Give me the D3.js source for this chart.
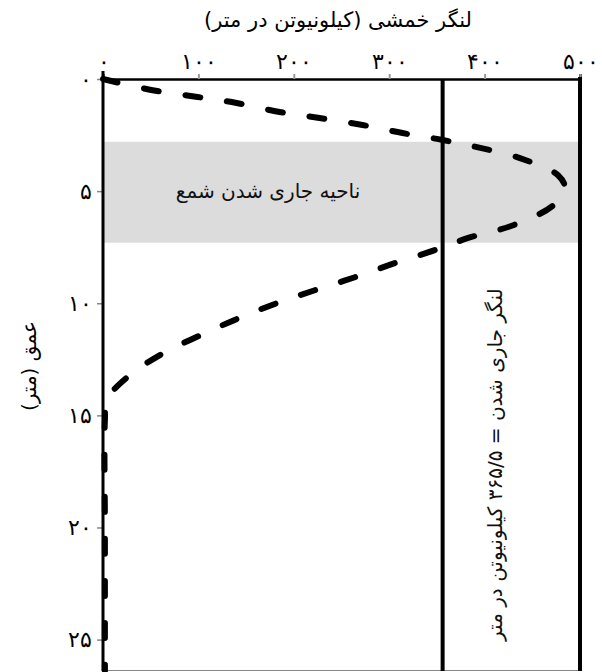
<!DOCTYPE html>
<html><head><meta charset="utf-8">
<script src="https://cdn.jsdelivr.net/npm/d3@7"></script>
<style>
html,body{margin:0;padding:0;background:#fff;}
svg{display:block;font-family:"DejaVu Sans",sans-serif;}
</style></head>
<body>
<svg id="c" width="602" height="672"></svg>
<script>
// Data
const xTicks = [0, 100, 200, 300, 400, 500];
const xTickLabels = ["۰", "۱۰۰", "۲۰۰", "۳۰۰", "۴۰۰", "۵۰۰"];
const yTicks = [0, 5, 10, 15, 20, 25];
const yTickLabels = ["۰", "۵", "۱۰", "۱۵", "۲۰", "۲۵"];
const depth  = [0, 0.5, 0.8, 1.07, 1.47, 1.74, 2.05, 2.41, 2.72, 3.04, 3.53, 4.29, 4.85, 5.63, 6.52, 7.1, 7.63, 8.21, 8.84, 9.42, 10.0, 10.67, 11.43, 12.23, 13.21, 14.3, 15.2, 20, 25, 26.4];
const moment = [0, 52, 99, 140, 185, 227, 272, 314, 356, 392, 437, 477, 484, 472, 430, 382, 348, 306, 264, 222, 182, 142, 102, 63, 28, 4, 2, 2, 2, 2];
const yieldLine = 356;      // position of the yield-moment line as drawn
const plotMax = 500;
const bandDepth = [2.8, 7.3];
const xTitle = "لنگر خمشی (کیلونیوتن در متر)";
const yTitle = "عمق (متر)";
const bandLabel = "ناحیه جاری شدن شمع";
const yieldLabel = "لنگر جاری شدن = ۳۶۵/۵ کیلونیوتن در متر";

const svg = d3.select("#c");
const x = d3.scaleLinear().domain([0, 500]).range([103, 580]);
const y = d3.scaleLinear().domain([0, 26.4]).range([79, 671]);

// band
svg.append("rect")
  .attr("x", x(0)).attr("width", x(plotMax) - x(0))
  .attr("y", y(bandDepth[0])).attr("height", y(bandDepth[1]) - y(bandDepth[0]))
  .attr("fill", "#dcdcdc");

svg.append("text")
  .attr("x", 268).attr("y", y((bandDepth[0] + bandDepth[1]) / 2) + 6)
  .attr("text-anchor", "middle").attr("font-size", 20).attr("fill", "#111")
  .text(bandLabel);

// top axis
const xAxis = d3.axisTop(x).tickValues(xTicks).tickSize(5).tickFormat((d, i) => xTickLabels[i]);
const gx = svg.append("g").attr("transform", `translate(0,${y(0)})`).call(xAxis);
gx.select(".domain").attr("stroke", "#000").attr("stroke-width", 2.5);
gx.selectAll(".tick line").attr("stroke", "#999").attr("stroke-width", 2);
gx.selectAll(".tick text").attr("font-size", 22).attr("fill", "#000").attr("dy", "-2");

// left axis
const yAxis = d3.axisLeft(y).tickValues(yTicks).tickSize(6).tickFormat((d, i) => yTickLabels[i]);
const gy = svg.append("g").attr("transform", `translate(${x(0)},0)`).call(yAxis);
gy.select(".domain").remove();
gy.selectAll(".tick line").attr("stroke", "#888").attr("stroke-width", 1.5);
gy.selectAll(".tick text").attr("font-size", 22).attr("fill", "#000").attr("dx", "-2");

svg.append("line").attr("x1", x(0)).attr("x2", x(0)).attr("y1", y(0) - 8).attr("y2", y(26.4))
  .attr("stroke", "#000").attr("stroke-width", 3);

// bottom border
svg.append("line").attr("x1", x(0)).attr("x2", x(plotMax)).attr("y1", y(26.4) - 0.5).attr("y2", y(26.4) - 0.5)
  .attr("stroke", "#888").attr("stroke-width", 1);

// right border
svg.append("line").attr("x1", x(plotMax)).attr("x2", x(plotMax)).attr("y1", y(0) - 2).attr("y2", y(26.4))
  .attr("stroke", "#000").attr("stroke-width", 4);

// moment curve
const pts = depth.map((d, i) => [moment[i], d]);
const line = d3.line().x(d => x(d[0])).y(d => y(d[1])).curve(d3.curveCatmullRom.alpha(0.5));
svg.append("path").datum(pts).attr("d", line)
  .attr("fill", "none").attr("stroke", "#000").attr("stroke-width", 6)
  .attr("stroke-linecap", "round").attr("stroke-dasharray", "15,27");

// yield line
svg.append("line").attr("x1", x(yieldLine)).attr("x2", x(yieldLine)).attr("y1", y(0)).attr("y2", y(26.4))
  .attr("stroke", "#000").attr("stroke-width", 4);

svg.append("text")
  .attr("transform", `translate(${x(yieldLine) + 59},${y(17.2)}) rotate(-90)`)
  .attr("text-anchor", "middle").attr("font-size", 20).attr("fill", "#111")
  .text(yieldLabel);

// titles
svg.append("text").attr("x", 338).attr("y", 27).attr("text-anchor", "middle")
  .attr("font-size", 21).attr("fill", "#000").text(xTitle);
svg.append("text").attr("transform", `translate(36,${y(12.8)}) rotate(-90)`)
  .attr("text-anchor", "middle").attr("font-size", 20).attr("fill", "#000").text(yTitle);
</script>
</body></html>
